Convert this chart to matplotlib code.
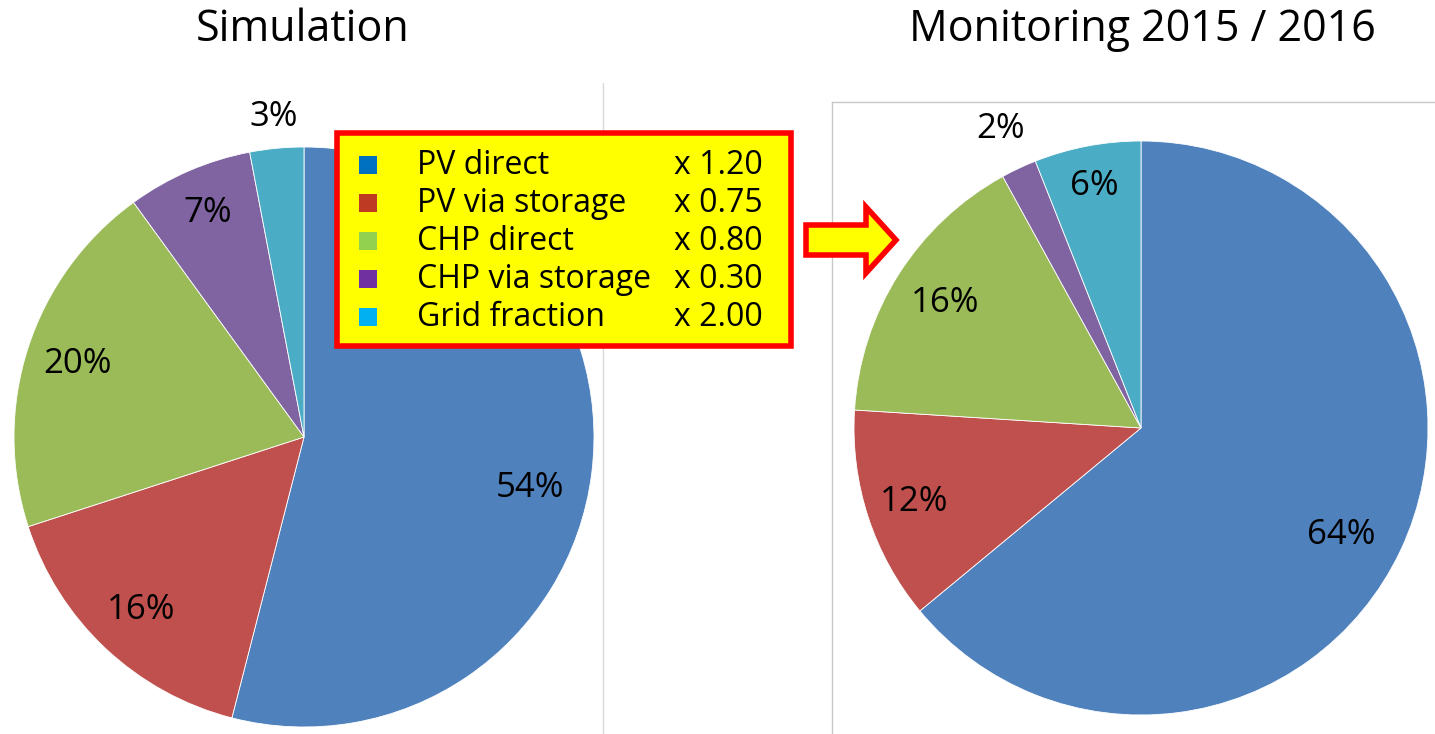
import numpy as np
import matplotlib
matplotlib.use("Agg")
import matplotlib.pyplot as plt
from matplotlib.patches import Rectangle, Polygon

plt.rcParams['font.family'] = ['Open Sans', 'DejaVu Sans']

# data
categories = ['PV direct', 'PV via storage', 'CHP direct', 'CHP via storage', 'Grid fraction']
factors = ['x 1.20', 'x 0.75', 'x 0.80', 'x 0.30', 'x 2.00']
sim_values = [54, 16, 20, 7, 3]
mon_values = [64, 12, 16, 2, 6]
titles = ['Simulation', 'Monitoring 2015 / 2016']

pie_colors = ['#4F81BD', '#C0504D', '#9BBB59', '#8064A2', '#4BACC6']
legend_colors = ['#0070C0', '#BE3A22', '#92D050', '#7030A0', '#00B0F0']

W, H = 1435, 734
fig = plt.figure(figsize=(W / 100, H / 100), dpi=100)


def pie_axes(cx, cy, r):
    ax = fig.add_axes([(cx - r) / W, (H - cy - r) / H, 2 * r / W, 2 * r / H])
    return ax


def draw_pie(ax, values, dists, shifts):
    ax.pie(values, colors=pie_colors, startangle=90, counterclock=False, radius=1,
           wedgeprops=dict(edgecolor='white', linewidth=0.6))
    ax.set_xlim(-1, 1)
    ax.set_ylim(-1, 1)
    ax.set_aspect('equal')
    ax.axis('off')
    total = float(sum(values))
    start = 0
    # label placement: radial distance + small angular shift (best-fit look)
    for v, d, s in zip(values, dists, shifts):
        mid = np.deg2rad(90 - (start + v / 2) / total * 360 + s)
        ax.text(d * np.cos(mid), d * np.sin(mid), f'{v}%', ha='center', va='center',
                fontsize=25, color='black', clip_on=False)
        start += v


ax1 = pie_axes(304, 437, 290)
draw_pie(ax1, sim_values, [0.8, 0.82, 0.82, 0.84, 1.11], [-5.5, 0, 0, 0, 0])

ax2 = pie_axes(1141, 428, 287)
draw_pie(ax2, mon_values, [0.79, 0.83, 0.81, 1.15, 0.86], [-3, 0, 0, 0, 0])

# overlay in pixel coordinates
ov = fig.add_axes([0, 0, 1, 1], zorder=5)
ov.set_xlim(0, W)
ov.set_ylim(H, 0)
ov.axis('off')

ov.plot([603, 603], [83, H], color='#D9D9D9', lw=1, zorder=0)
ov.plot([832, W], [102, 102], color='#C8C8C8', lw=1, zorder=0)
ov.plot([832, 832], [102, H], color='#C8C8C8', lw=1, zorder=0)

ov.text(303, 30, titles[0], ha='center', va='center', fontsize=31)
ov.text(1142, 30, titles[1], ha='center', va='center', fontsize=31)

# legend box
ov.add_patch(Rectangle((337, 133), 454, 213, facecolor='#FFFF00', edgecolor='#FF0000',
                       lw=4, zorder=3))
row_y = 165
for i, (name, fac, c) in enumerate(zip(categories, factors, legend_colors)):
    y = row_y + i * 38
    ov.add_patch(Rectangle((359, y - 9), 18, 18, facecolor=c, edgecolor='none', zorder=4))
    ov.text(417, y, name, ha='left', va='center', fontsize=23, zorder=4)
    ov.text(763, y, fac, ha='right', va='center', fontsize=23, zorder=4)

# arrow
arrow = [(806, 225), (866, 225), (866, 207), (896, 240), (866, 273), (866, 255), (806, 255)]
ov.add_patch(Polygon(arrow, closed=True, facecolor='#FFFF00', edgecolor='#FF0000', lw=4,
                     joinstyle='miter', zorder=3))

fig.savefig('out.png', dpi=100, facecolor='white')
